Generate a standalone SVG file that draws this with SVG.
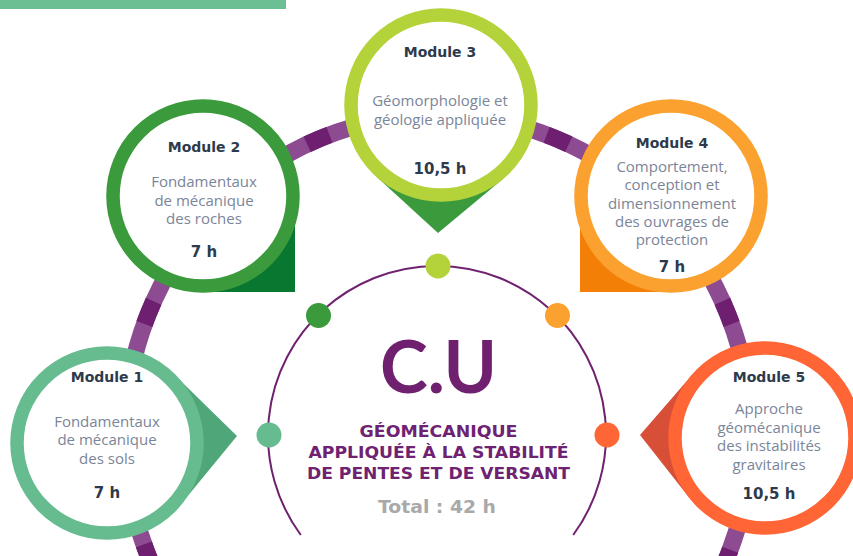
<svg xmlns="http://www.w3.org/2000/svg" width="853" height="556" viewBox="0 0 853 556">
<style>
.ring{fill:#fff;stroke-width:13.5}
.ttl{font-family:"DejaVu Sans",sans-serif;font-weight:bold;font-size:14px;fill:#2d3a4b;text-anchor:middle}
.dsc{font-family:"Open Sans",sans-serif;font-size:15px;fill:#7b8599;text-anchor:middle}
.hrs{font-family:"DejaVu Sans",sans-serif;font-weight:bold;font-size:15px;fill:#2d3a4b;text-anchor:middle}
.sub{font-family:"DejaVu Sans",sans-serif;font-weight:bold;font-size:16px;fill:#6e2271;text-anchor:middle}
.dk{fill:none;stroke:#6e1f70;stroke-width:17}
</style>
<rect x="0" y="0" width="286" height="9" fill="#6bbf93"/>
<g id="connectors">
<ellipse cx="438" cy="435" rx="313" ry="320" fill="none" stroke="#8d4b91" stroke-width="17"/>
<path class="dk" d="M153.6,301.3 A313,320 0 0 0 144.4,324"/>
<path class="dk" d="M329.4,134.9 A313,320 0 0 0 307.2,144.3"/>
<path class="dk" d="M568.8,144.3 A313,320 0 0 0 546.6,134.9"/>
<path class="dk" d="M731.6,324 A313,320 0 0 0 722.4,301.3"/>
<path class="dk" d="M143.9,544.4 A313,320 0 0 0 166.9,595"/>
<path class="dk" d="M730.2,549.7 A313,320 0 0 1 709.1,595"/>
</g>
<g id="hub">
<path d="M300.8,535 A169,169 0 1 1 573.2,535" fill="none" stroke="#6f2170" stroke-width="2"/>
<circle cx="438" cy="266" r="12.5" fill="#b4d23a"/>
<circle cx="318.5" cy="315.5" r="12.5" fill="#3a9a3c"/>
<circle cx="557.5" cy="315.5" r="12.5" fill="#fba12f"/>
<circle cx="269" cy="435" r="12.5" fill="#66bc8f"/>
<circle cx="607" cy="435" r="12.5" fill="#ff6535"/>
</g>
<g id="center">
<text x="438.5" y="393" font-family="Lato,sans-serif" font-weight="bold" font-size="72" fill="#6f2170" text-anchor="middle" textLength="117" lengthAdjust="spacingAndGlyphs">C.U</text>
<text class="sub" x="438.5" y="436.5" textLength="158" lengthAdjust="spacingAndGlyphs">GÉOMÉCANIQUE</text>
<text class="sub" x="438.5" y="457.5" textLength="260" lengthAdjust="spacingAndGlyphs">APPLIQUÉE À LA STABILITÉ</text>
<text class="sub" x="438.5" y="478.5" textLength="263" lengthAdjust="spacingAndGlyphs">DE PENTES ET DE VERSANT</text>
<text x="437" y="512.5" font-family="DejaVu Sans,sans-serif" font-weight="bold" font-size="18.5" fill="#a9a9a9" text-anchor="middle" textLength="118" lengthAdjust="spacingAndGlyphs">Total : 42 h</text>
</g>
<g id="module-1">
<polygon points="237,436 174.1,374.4 107,443 181.1,504" fill="#4fa779"/>
<circle class="ring" cx="107" cy="443" r="90" stroke="#66bc8f"/>
<text class="ttl" x="107" y="382">Module 1</text>
<text class="dsc" x="107" y="426.5">Fondamentaux</text>
<text class="dsc" x="107" y="445">de mécanique</text>
<text class="dsc" x="107" y="463.5">des sols</text>
<text class="hrs" x="107" y="498">7 h</text>
</g>
<g id="module-2">
<rect x="203" y="196" width="92" height="96" fill="#08772f"/>
<circle class="ring" cx="203" cy="196" r="90" stroke="#3a9a3c"/>
<text class="ttl" x="204" y="152">Module 2</text>
<text class="dsc" x="204" y="187">Fondamentaux</text>
<text class="dsc" x="204" y="205.5">de mécanique</text>
<text class="dsc" x="204" y="224">des roches</text>
<text class="hrs" x="204" y="257">7 h</text>
</g>
<g id="module-3">
<polygon points="438,233 376,176.3 441,105 502.6,179.3" fill="#3a9a3c"/>
<circle class="ring" cx="441" cy="105" r="90" stroke="#b4d23a"/>
<text class="ttl" x="440" y="57">Module 3</text>
<text class="dsc" x="440" y="106">Géomorphologie et</text>
<text class="dsc" x="440" y="124.5">géologie appliquée</text>
<text class="hrs" x="440" y="174">10,5 h</text>
</g>
<g id="module-4">
<rect x="580" y="196" width="91" height="96" fill="#f47f06"/>
<circle class="ring" cx="671" cy="196" r="90" stroke="#fba12f"/>
<text class="ttl" x="672" y="148">Module 4</text>
<text class="dsc" x="672" y="172">Comportement,</text>
<text class="dsc" x="672" y="190.3">conception et</text>
<text class="dsc" x="672" y="208.6">dimensionnement</text>
<text class="dsc" x="672" y="226.9">des ouvrages de</text>
<text class="dsc" x="672" y="245.2">protection</text>
<text class="hrs" x="672" y="272">7 h</text>
</g>
<g id="module-5">
<polygon points="640,435 692,374.9 765,438 689.1,497.6" fill="#d84f38"/>
<circle class="ring" cx="765" cy="438" r="90" stroke="#ff6535"/>
<text class="ttl" x="769" y="382">Module 5</text>
<text class="dsc" x="769" y="414">Approche</text>
<text class="dsc" x="769" y="432.5">géomécanique</text>
<text class="dsc" x="769" y="451">des instabilités</text>
<text class="dsc" x="769" y="469.5">gravitaires</text>
<text class="hrs" x="769" y="499">10,5 h</text>
</g>
</svg>
